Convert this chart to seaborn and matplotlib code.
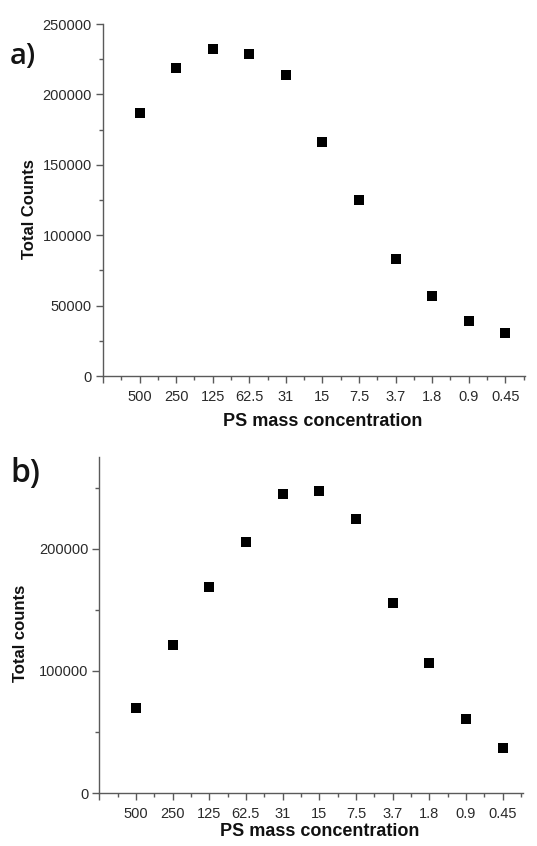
import numpy as np
import pandas as pd
import matplotlib
matplotlib.use("Agg")
import matplotlib.pyplot as plt
import matplotlib.transforms as mtransforms
from matplotlib.ticker import FixedLocator, MultipleLocator
import seaborn as sns

# PS mass concentrations (dilution series, high to low)
concentrations = ["500", "250", "125", "62.5", "31", "15", "7.5", "3.7", "1.8", "0.9", "0.45"]

# Panel a) total counts
counts_a = [187000, 219000, 232000, 228500, 213800, 166400, 124800, 83100, 56800, 39000, 30300]
# Panel b) total counts
counts_b = [69600, 121100, 168800, 205100, 244700, 247100, 224200, 155200, 106100, 60300, 36600]

sns.set_style("ticks")
plt.rcParams["font.family"] = ["Liberation Sans", "DejaVu Sans"]

AXIS_GREY = "#5a5a5a"
TEXT_GREY = "#2a2a2a"

fig = plt.figure(figsize=(5.37, 8.46), dpi=100)
ax_a = fig.add_axes([103 / 537, (846 - 376) / 846, 422.4 / 537, 352 / 846])
ax_b = fig.add_axes([99.3 / 537, (846 - 793) / 846, 423.4 / 537, 336 / 846])

positions = np.arange(len(concentrations))
df_a = pd.DataFrame({"pos": positions, "counts": counts_a})
df_b = pd.DataFrame({"pos": positions, "counts": counts_b})


def style_axis(ax, ylim, ymajor, yminor, ylabel, ylabel_x, xlabel_y):
    ax.set_xlim(-1, 10.55)
    ax.set_ylim(*ylim)
    sns.despine(ax=ax)
    for side in ("left", "bottom"):
        ax.spines[side].set_color(AXIS_GREY)
        ax.spines[side].set_linewidth(1.0)

    ax.xaxis.set_major_locator(FixedLocator(np.arange(-1, len(concentrations))))
    ax.set_xticklabels([""] + concentrations)
    ax.xaxis.set_minor_locator(FixedLocator(np.arange(-0.5, len(concentrations), 1.0)))
    ax.yaxis.set_major_locator(MultipleLocator(ymajor))
    ax.yaxis.set_minor_locator(MultipleLocator(yminor))
    ax.yaxis.set_major_formatter(matplotlib.ticker.FuncFormatter(lambda v, p: f"{int(v)}"))

    ax.tick_params(which="major", direction="out", length=5, width=1.0,
                   color=AXIS_GREY, labelsize=10.5, labelcolor=TEXT_GREY)
    ax.tick_params(which="minor", direction="out", length=3, width=1.0, color=AXIS_GREY)
    ax.tick_params(axis="x", which="major", pad=5)
    ax.tick_params(axis="y", which="major", pad=3)

    ax.set_ylabel(ylabel, fontsize=12, fontweight="bold", color="#111111")
    ax.yaxis.set_label_coords(ylabel_x, 0.475)
    ax.set_xlabel("PS mass concentration", fontsize=13, fontweight="bold", color="#111111")
    blend = mtransforms.blended_transform_factory(ax.transData, ax.transAxes)
    ax.xaxis.set_label_coords(5, xlabel_y, transform=blend)


sns.scatterplot(data=df_a, x="pos", y="counts", ax=ax_a, marker="s", s=52,
                color="black", linewidth=0, clip_on=False, legend=False)
sns.scatterplot(data=df_b, x="pos", y="counts", ax=ax_b, marker="s", s=52,
                color="black", linewidth=0, clip_on=False, legend=False)

style_axis(ax_a, (0, 250000), 50000, 25000, "Total Counts", -0.156, -0.105)
style_axis(ax_b, (0, 275000), 100000, 50000, "Total counts", -0.168, -0.088)

# Panel letters
fig.text(10 / 537, 1 - 57 / 846, "a)", fontsize=21, fontweight="semibold",
         family=["Open Sans", "DejaVu Sans"], color="#141414", ha="left", va="center")
fig.text(10 / 537, 1 - 473 / 846, "b)", fontsize=23, fontweight="semibold",
         family=["Open Sans", "DejaVu Sans"], color="#141414", ha="left", va="center")

fig.savefig("out.png", dpi=100)
